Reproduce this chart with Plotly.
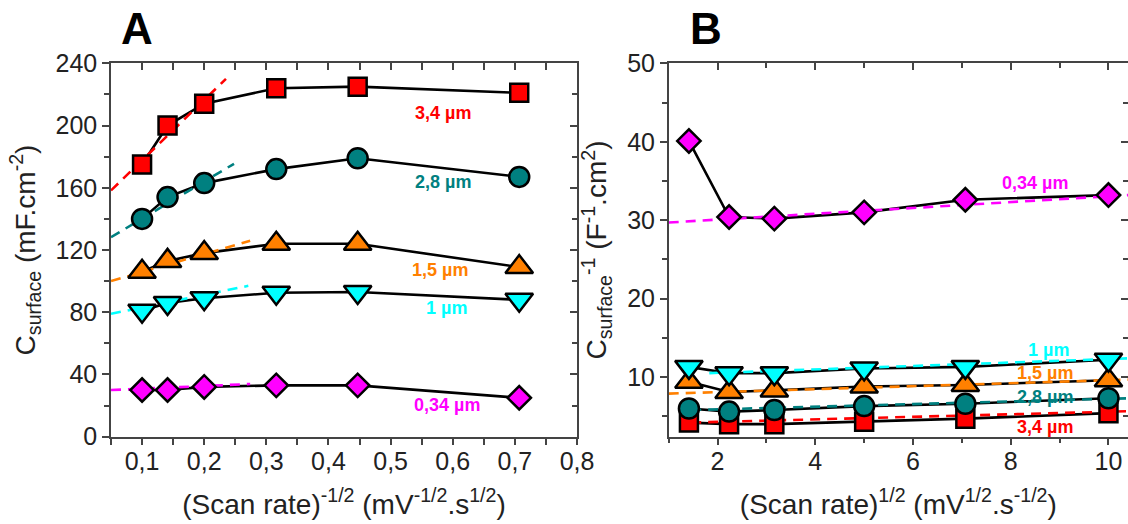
import plotly.graph_objects as go

# ---------------- data ----------------
thickness = ["3,4 µm", "2,8 µm", "1,5 µm", "1 µm", "0,34 µm"]
colors = ["#FF0000", "#008080", "#FF8000", "#00FFFF", "#FF00FF"]
symbols = ["square", "circle", "triangle-up", "triangle-down", "diamond"]
msizes = [18, 20, 24, 24, 18]

# Panel A: (scan rate)^-1/2
xA = [0.1, 0.141, 0.2, 0.316, 0.447, 0.707]
a_34 = [175, 200, 214, 224, 225, 221]
a_28 = [140, 154, 163, 172, 179, 167]
a_15 = [106, 113, 118, 124, 124, 109]
a_1 = [81, 86, 89, 92.5, 93, 88]
a_034 = [30, 30, 32, 33, 33, 25]
yA = [a_34, a_28, a_15, a_1, a_034]

# Panel B: (scan rate)^1/2
xB = [1.414, 2.236, 3.162, 5.0, 7.071, 10.0]
b_34 = [4.2, 4.0, 4.0, 4.3, 4.7, 5.4]
b_28 = [6.0, 5.6, 5.8, 6.3, 6.6, 7.3]
b_15 = [9.4, 8.1, 8.3, 8.8, 9.0, 9.6]
b_1 = [11.3, 10.5, 10.5, 11.1, 11.3, 12.2]
b_034 = [40.1, 30.4, 30.2, 31.0, 32.6, 33.2]
yB = [b_34, b_28, b_15, b_1, b_034]

# linear fits (slope, intercept, x extent)
fitA_slope = [387.6, 238.4, 116.0, 81.4, 17.4]
fitA_icpt = [138.9, 116.3, 94.2, 74.9, 29.1]
fitA_xstart = [0.05, 0.05, 0.05, 0.05, 0.05]
fitA_xend = [0.235, 0.248, 0.274, 0.271, 0.274]

fitB_slope = [0.162, 0.168, 0.19, 0.22, 0.372]
fitB_icpt = [3.96, 5.55, 7.7, 10.1, 29.33]
fitB_xstart = [1.46, 1.46, 1.0, 1.83, 1.0]
fitB_xend = [10.4, 10.4, 10.4, 10.4, 10.4]

# label positions
labA_x = [0.585, 0.585, 0.58, 0.59, 0.59]
labA_y = [208, 164, 107, 83, 20.6]
labB_x = [8.71, 8.71, 8.71, 8.78, 8.49]
labB_y = [3.6, 7.5, 10.5, 13.4, 34.8]

FONT = "Liberation Sans, Arial, sans-serif"
AX = "#444444"

fig = go.Figure()

# connecting black lines
for i in range(5):
    fig.add_trace(go.Scatter(x=xA, y=yA[i], mode="lines", line=dict(color="black", width=2.6),
                             xaxis="x", yaxis="y", showlegend=False, hoverinfo="skip"))
    fig.add_trace(go.Scatter(x=xB, y=yB[i], mode="lines", line=dict(color="black", width=2.6),
                             xaxis="x2", yaxis="y2", showlegend=False, hoverinfo="skip"))

# dashed fits
for i in range(5):
    xs = [fitA_xstart[i], fitA_xend[i]]
    ys = [fitA_slope[i] * v + fitA_icpt[i] for v in xs]
    fig.add_trace(go.Scatter(x=xs, y=ys, mode="lines",
                             line=dict(color=colors[i], width=2.6, dash="10px,7px"),
                             xaxis="x", yaxis="y", showlegend=False, hoverinfo="skip"))
    xs = [fitB_xstart[i], fitB_xend[i]]
    ys = [fitB_slope[i] * v + fitB_icpt[i] for v in xs]
    fig.add_trace(go.Scatter(x=xs, y=ys, mode="lines",
                             line=dict(color=colors[i], width=2.6, dash="10px,7px"),
                             xaxis="x2", yaxis="y2", showlegend=False, hoverinfo="skip"))

# markers
for i in range(5):
    mk = dict(symbol=symbols[i], size=msizes[i], color=colors[i], line=dict(color="black", width=2.5))
    fig.add_trace(go.Scatter(x=xA, y=yA[i], mode="markers", marker=mk, name=thickness[i],
                             xaxis="x", yaxis="y", showlegend=False))
    fig.add_trace(go.Scatter(x=xB, y=yB[i], mode="markers", marker=mk, name=thickness[i],
                             xaxis="x2", yaxis="y2", showlegend=False))

# empty traces so the mirrored frame axes (top / right) get drawn
for xa, ya in [("x3", "y"), ("x", "y3"), ("x4", "y2"), ("x2", "y4")]:
    fig.add_trace(go.Scatter(x=[], y=[], xaxis=xa, yaxis=ya, showlegend=False, hoverinfo="skip"))

annotations = []
for i in range(5):
    annotations.append(dict(x=labA_x[i], y=labA_y[i], xref="x", yref="y", text="<b>%s</b>" % thickness[i],
                            showarrow=False, font=dict(family=FONT, size=18, color=colors[i])))
    annotations.append(dict(x=labB_x[i], y=labB_y[i], xref="x2", yref="y2", text="<b>%s</b>" % thickness[i],
                            showarrow=False, font=dict(family=FONT, size=18, color=colors[i])))

annotations.append(dict(x=137 / 1128, y=1 - 29 / 524, xref="paper", yref="paper", text="<b>A</b>",
                        xanchor="center", yanchor="middle",
                        showarrow=False, font=dict(family=FONT, size=44, color="black")))
annotations.append(dict(x=706 / 1128, y=1 - 29 / 524, xref="paper", yref="paper", text="<b>B</b>",
                        xanchor="center", yanchor="middle",
                        showarrow=False, font=dict(family=FONT, size=44, color="black")))

tickfont = dict(family=FONT, size=25, color="#222")
titlefont = dict(family=FONT, size=28, color="#222")

def base_axis(**kw):
    d = dict(showline=True, linecolor=AX, linewidth=1.5, ticks="outside", ticklen=7,
             tickwidth=1.5, tickcolor=AX, showgrid=False, zeroline=False, tickfont=tickfont)
    d.update(kw)
    return d

def mirror_axis(**kw):
    d = dict(showline=True, linecolor=AX, linewidth=1.5, ticks="inside", ticklen=7,
             tickwidth=1.5, tickcolor=AX, showgrid=False, zeroline=False, showticklabels=False)
    d.update(kw)
    return d

domA = [111 / 1128, 577 / 1128]
domB = [668.7 / 1128, 1.0]
domY = [1 - 436.7 / 524, 1 - 63.3 / 524]

fig.update_layout(
    width=1128, height=524,
    margin=dict(l=0, r=0, t=0, b=0),
    paper_bgcolor="white", plot_bgcolor="white",
    separators=", ",
    showlegend=False,
    xaxis=base_axis(domain=domA, range=[0.05, 0.8], anchor="y", tick0=0, dtick=0.1, tickformat=".1f",
                    ticklabelstandoff=-5,
                    minor=dict(ticks="outside", dtick=0.05, ticklen=7, tickwidth=1.5, tickcolor=AX),
                    title=dict(text="(Scan rate)<sup>-1/2</sup> (mV<sup>-1/2</sup>.s<sup>1/2</sup>)",
                               font=titlefont, standoff=20), automargin=False),
    yaxis=base_axis(domain=domY, range=[0, 240], anchor="x", tick0=0, dtick=40,
                    minor=dict(ticks="outside", dtick=20, ticklen=5, tickwidth=1.5, tickcolor=AX),
                    title=dict(text="C<sub>surface</sub> (mF.cm<sup>-2</sup>)", font=titlefont, standoff=12),
                    automargin=False),
    xaxis3=mirror_axis(overlaying="x", anchor="y", side="top", range=[0.05, 0.8], tick0=0, dtick=0.1,
                       minor=dict(ticks="inside", dtick=0.05, ticklen=7, tickwidth=1.5, tickcolor=AX)),
    yaxis3=mirror_axis(overlaying="y", anchor="x", side="right", range=[0, 240], tick0=0, dtick=40,
                       minor=dict(ticks="inside", dtick=20, ticklen=5, tickwidth=1.5, tickcolor=AX)),
    xaxis2=base_axis(domain=domB, range=[1, 10.4], anchor="y2", tick0=0, dtick=2,
                     ticklabelstandoff=-5,
                     minor=dict(ticks="outside", dtick=1, ticklen=5, tickwidth=1.5, tickcolor=AX),
                     title=dict(text="(Scan rate)<sup>1/2</sup> (mV<sup>1/2</sup>.s<sup>-1/2</sup>)",
                                font=titlefont, standoff=20), automargin=False),
    yaxis2=base_axis(domain=domY, range=[2.4, 50], anchor="x2", tick0=0, dtick=10,
                     minor=dict(ticks="outside", dtick=5, ticklen=5, tickwidth=1.5, tickcolor=AX),
                     title=dict(text="C<sub>surface</sub><sup>-1</sup> (F<sup>-1</sup>.cm<sup>2</sup>)",
                                font=titlefont, standoff=12), automargin=False),
    xaxis4=mirror_axis(overlaying="x2", anchor="y2", side="top", range=[1, 10.4], tick0=0, dtick=2,
                       minor=dict(ticks="inside", dtick=1, ticklen=5, tickwidth=1.5, tickcolor=AX)),
    yaxis4=mirror_axis(overlaying="y2", anchor="x2", side="right", range=[2.4, 50], tick0=0, dtick=10,
                       minor=dict(ticks="inside", dtick=5, ticklen=5, tickwidth=1.5, tickcolor=AX)),
    annotations=annotations,
)

fig.write_html("out.html", config={"displayModeBar": False},
               post_script="document.body.style.margin='0';")
